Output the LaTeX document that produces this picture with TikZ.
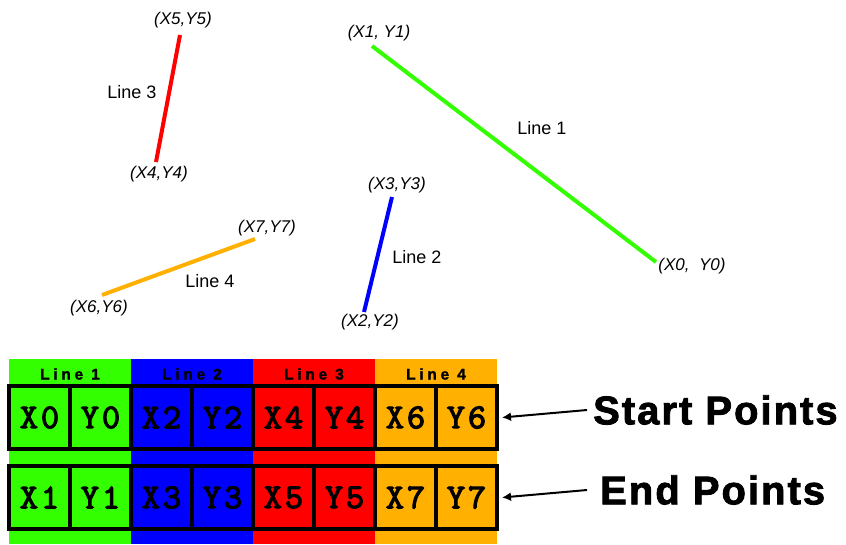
\documentclass[tikz,border=0pt]{standalone}
\usepackage{fontspec}
\setmainfont{Liberation Sans}
\newfontfamily\cellfont[FakeBold=3, LetterSpace=8]{lmmono10-regular.otf}
\newfontfamily\hdrfont[LetterSpace=24, BoldFeatures={FakeBold=1.5}]{Liberation Sans}
\newfontfamily\bigfont[LetterSpace=5, BoldFeatures={FakeBold=2}]{Liberation Sans}
\usetikzlibrary{arrows.meta}
\definecolor{lgreen}{RGB}{51,255,0}
\definecolor{lblue}{RGB}{0,0,255}
\definecolor{lred}{RGB}{255,0,0}
\definecolor{lorange}{RGB}{255,176,0}
\tikzset{
  seg/.style={line width=4pt},
  ptlabel/.style={font=\fontsize{17}{17}\selectfont\itshape, inner sep=0pt},
  linelabel/.style={font=\fontsize{18}{18}\selectfont, inner sep=0pt},
  hdr/.style={font=\hdrfont\bfseries\fontsize{15.5}{15.5}\selectfont, inner sep=0pt},
  cell/.style={draw=black, line width=4pt, minimum width=61pt, minimum height=63pt, inner sep=0pt,
    font=\cellfont\fontsize{35}{35}\selectfont},
  big/.style={font=\bigfont\bfseries\fontsize{40}{40}\selectfont, inner sep=0pt, anchor=west},
  pointer/.style={line width=2pt, -{Latex[length=9pt,width=9pt]}}
}
\begin{document}
\begin{tikzpicture}[x=1pt,y=-1pt]
\useasboundingbox[fill=white] (0,0) rectangle (846,544);

% line endpoints
\coordinate (P0) at (656,262);
\coordinate (P1) at (372,46);
\coordinate (P2) at (364,312);
\coordinate (P3) at (392,197);
\coordinate (P4) at (156,162);
\coordinate (P5) at (180,35);
\coordinate (P6) at (102,295);
\coordinate (P7) at (255,239);

\draw[seg, lgreen] (P0) -- (P1);
\draw[seg, lblue] (P2) -- (P3);
\draw[seg, lred] (P4) -- (P5);
\draw[seg, lorange] (P6) -- (P7);

\node[ptlabel] (l5) at (183,20) {(X5,Y5)};
\node[linelabel] (n3) at (132,92) {Line 3};
\node[ptlabel] (l4) at (159,174) {(X4,Y4)};
\node[ptlabel] (l7) at (267,228) {(X7,Y7)};
\node[linelabel] (n4) at (210,281) {Line 4};
\node[ptlabel] (l6) at (99,308) {(X6,Y6)};
\node[ptlabel] (l1) at (379,33) {(X1, Y1)};
\node[linelabel] (n1) at (542,128) {Line 1};
\node[ptlabel] (l3) at (397,185) {(X3,Y3)};
\node[linelabel] (n2) at (417,257) {Line 2};
\node[ptlabel] (l0) at (692,266) {(X0,\ \ Y0)};
\node[ptlabel] (l2) at (370,322) {(X2,Y2)};

% colour bands
\fill[lgreen] (9,359) rectangle (131,544);
\fill[lblue] (131,359) rectangle (253,544);
\fill[lred] (253,359) rectangle (375,544);
\fill[lorange] (375,359) rectangle (497,544);

\node[hdr] (h1) at (70,374) {Line 1};
\node[hdr] (h2) at (192,374) {Line 2};
\node[hdr] (h3) at (314,374) {Line 3};
\node[hdr] (h4) at (436,374) {Line 4};

% start row
\node[cell] (c1) at (39.5,417.5) {X0};
\node[cell] (c2) at (100.5,417.5) {Y0};
\node[cell] (c3) at (161.5,417.5) {X2};
\node[cell] (c4) at (222.5,417.5) {Y2};
\node[cell] (c5) at (283.5,417.5) {X4};
\node[cell] (c6) at (344.5,417.5) {Y4};
\node[cell] (c7) at (405.5,417.5) {X6};
\node[cell] (c8) at (466.5,417.5) {Y6};
% end row
\node[cell] (d1) at (39.5,497.5) {X1};
\node[cell] (d2) at (100.5,497.5) {Y1};
\node[cell] (d3) at (161.5,497.5) {X3};
\node[cell] (d4) at (222.5,497.5) {Y3};
\node[cell] (d5) at (283.5,497.5) {X5};
\node[cell] (d6) at (344.5,497.5) {Y5};
\node[cell] (d7) at (405.5,497.5) {X7};
\node[cell] (d8) at (466.5,497.5) {Y7};

\node[big] (sp) at (593,410) {Start Points};
\node[big] (ep) at (600,490) {End Points};

\draw[pointer] ([xshift=-6pt]sp.west) -- ([xshift=3pt]c8.east);
\draw[pointer] ([xshift=-13pt]ep.west) -- ([xshift=3pt]d8.east);
\end{tikzpicture}
\end{document}
